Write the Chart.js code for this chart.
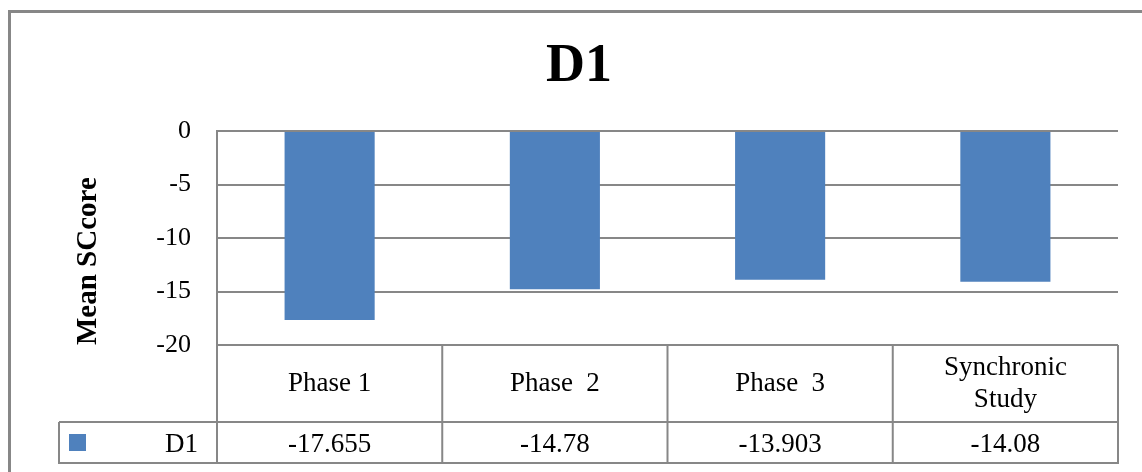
<!DOCTYPE html>
<html>
<head>
<meta charset="utf-8">
<title>D1</title>
<script src="https://cdn.jsdelivr.net/npm/chart.js@4.4.0/dist/chart.umd.min.js"></script>
<style>
  html, body { margin: 0; padding: 0; background: #ffffff; }
  #wrap { width: 1142px; height: 472px; position: relative; overflow: hidden; }
</style>
</head>
<body>
<div id="wrap"><canvas id="chart" width="1142" height="472"></canvas></div>
<script>
// Series and axis definitions
const categories = ['Phase 1', 'Phase  2', 'Phase  3', ['Synchronic', 'Study']];
const seriesName = 'D1';
const d1Values = [-17.655, -14.78, -13.903, -14.08];
const yTickMin = -20;
const yTickMax = 0;
const yTickStep = 5;

const SERIF = "'Liberation Serif', 'Times New Roman', serif";
const LINE_GRAY = '#878787';
const BAR_BLUE = '#4F81BD';

// White page with the grey frame that runs off the right and bottom edges
const framePlugin = {
  id: 'frame',
  beforeDraw(chart) {
    const ctx = chart.ctx;
    ctx.save();
    ctx.fillStyle = '#ffffff';
    ctx.fillRect(0, 0, chart.width, chart.height);
    ctx.strokeStyle = LINE_GRAY;
    ctx.lineWidth = 3;
    ctx.strokeRect(9.5, 11.5, chart.width + 40, chart.height + 40);
    ctx.restore();
  }
};

// Data table under the plot: category row, then legend key + values row
const dataTablePlugin = {
  id: 'dataTable',
  afterDraw(chart, args, opts) {
    const ctx = chart.ctx;
    const area = chart.chartArea;
    const x = chart.scales.x;
    const n = categories.length;
    const step = x.getPixelForValue(1) - x.getPixelForValue(0);
    const edges = [];
    for (let i = 0; i <= n; i++) edges.push(x.getPixelForValue(0) - step / 2 + i * step);

    const top = area.bottom;
    const mid = top + opts.headerHeight;
    const bottom = mid + opts.valueHeight;
    const keyLeft = opts.keyLeft;

    ctx.save();
    ctx.strokeStyle = LINE_GRAY;
    ctx.lineWidth = 2;
    ctx.beginPath();
    // horizontal rules
    ctx.moveTo(keyLeft, mid); ctx.lineTo(edges[n] + 1, mid);
    ctx.moveTo(keyLeft - 1, bottom); ctx.lineTo(edges[n] + 1, bottom);
    // key cell left edge
    ctx.moveTo(keyLeft, mid); ctx.lineTo(keyLeft, bottom);
    // column separators
    edges.forEach(ex => { ctx.moveTo(ex, top); ctx.lineTo(ex, bottom); });
    ctx.stroke();

    ctx.fillStyle = '#000000';
    ctx.font = opts.fontSize + 'px ' + SERIF;
    ctx.textAlign = 'center';
    ctx.textBaseline = 'middle';

    // category names
    const headCenter = (top + mid) / 2;
    categories.forEach((label, i) => {
      const cx = (edges[i] + edges[i + 1]) / 2;
      const lines = Array.isArray(label) ? label : [label];
      const lh = opts.lineHeight;
      const startY = headCenter - (lines.length - 1) * lh / 2;
      lines.forEach((ln, j) => ctx.fillText(ln, cx, startY + j * lh));
    });

    // values from the series
    const valCenter = (mid + bottom) / 2;
    const ds = chart.data.datasets[0];
    ds.data.forEach((v, i) => {
      const cx = (edges[i] + edges[i + 1]) / 2;
      ctx.fillText(String(v), cx, valCenter + 2);
    });

    // legend key and series name
    ctx.fillStyle = ds.backgroundColor;
    const sw = opts.swatch;
    ctx.fillRect(keyLeft + 10, valCenter - sw / 2, sw, sw);
    ctx.fillStyle = '#000000';
    ctx.textAlign = 'right';
    ctx.fillText(ds.label, edges[0] - 19, valCenter + 2);
    ctx.restore();
  }
};

new Chart(document.getElementById('chart'), {
  type: 'bar',
  data: {
    labels: categories,
    datasets: [{
      label: seriesName,
      data: d1Values,
      backgroundColor: BAR_BLUE,
      borderWidth: 0,
      barPercentage: 0.4,
      categoryPercentage: 1.0
    }]
  },
  options: {
    responsive: false,
    animation: false,
    devicePixelRatio: 1,
    layout: { padding: { top: 0, left: 40, right: 24, bottom: 127 } },
    plugins: {
      legend: { display: false },
      tooltip: { enabled: false },
      title: {
        display: true,
        text: 'D1',
        color: '#000000',
        font: { family: SERIF, size: 54, weight: 'bold', lineHeight: 1.2 },
        padding: { top: 35, bottom: 31.2 }
      },
      dataTable: {
        headerHeight: 77,
        valueHeight: 41,
        keyLeft: 59,
        swatch: 17,
        fontSize: 27,
        lineHeight: 32
      }
    },
    scales: {
      x: { display: false },
      y: {
        min: yTickMin,
        max: yTickMax,
        afterFit(scale) { scale.width = 177; },
        ticks: {
          stepSize: yTickStep,
          padding: 26,
          color: '#000000',
          font: { family: SERIF, size: 26 }
        },
        grid: { color: LINE_GRAY, lineWidth: 2, drawTicks: false },
        border: { display: true, color: LINE_GRAY, width: 2 },
        title: {
          display: true,
          text: 'Mean SCcore',
          align: 'start',
          color: '#000000',
          font: { family: SERIF, size: 29, weight: 'bold', lineHeight: 1.2 },
          padding: { top: 31, bottom: 0 }
        }
      }
    }
  },
  plugins: [framePlugin, dataTablePlugin]
});
</script>
</body>
</html>
